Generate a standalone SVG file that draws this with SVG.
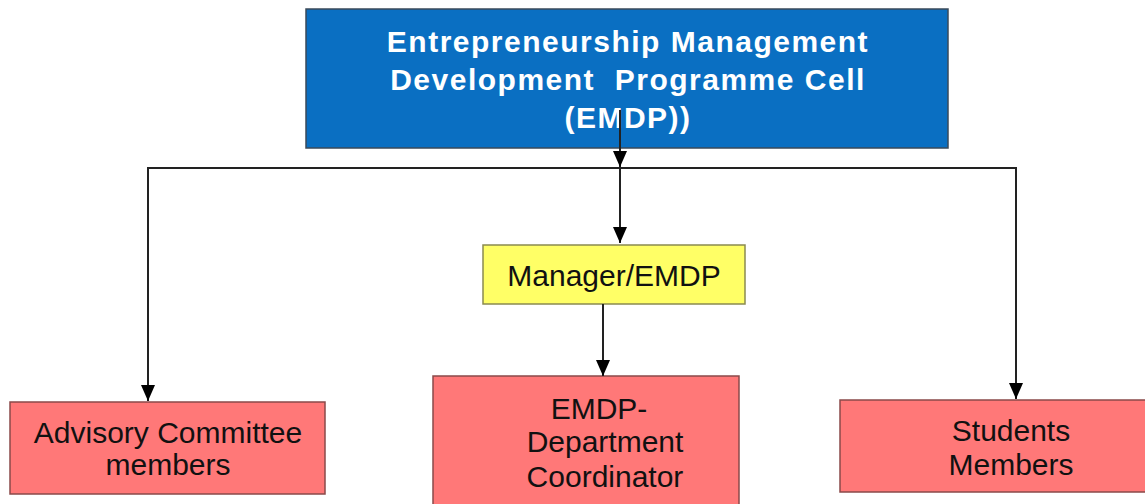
<svg xmlns="http://www.w3.org/2000/svg" width="1145" height="504" viewBox="0 0 1145 504">
<defs>
<marker id="arr" markerWidth="16" markerHeight="16" refX="16" refY="8" orient="auto" markerUnits="userSpaceOnUse" viewBox="0 0 16 16">
<path d="M0,1 L16,8 L0,15 Z" fill="#000"/>
</marker>
</defs>
<style>
text{font-family:"Liberation Sans",Arial,sans-serif;text-anchor:middle}
.t{fill:#fff;font-weight:bold;font-size:30px;letter-spacing:1.5px}
.k{fill:#111;font-size:30px}
.red{fill:#ff7878;stroke:#8a4a4a;stroke-width:1.5}
.c{stroke:#222;stroke-width:2;fill:none}
</style>
<rect width="1145" height="504" fill="#fff"/>
<g id="n-emdp">
<rect x="306" y="9" width="642" height="139" fill="#0a6fc2" stroke="#3a4a5a" stroke-width="1.5"/>
<text class="t" x="628" y="52">Entrepreneurship Management</text>
<text class="t" x="628" y="90" xml:space="preserve">Development  Programme Cell</text>
<text class="t" x="628" y="128">(EMDP))</text>
</g>
<g id="n-manager">
<rect x="483" y="245" width="262" height="59" fill="#ffff66" stroke="#8a8a50" stroke-width="1.5"/>
<text class="k" x="614" y="286">Manager/EMDP</text>
</g>
<g id="n-advisory">
<rect class="red" x="10" y="402" width="315" height="92"/>
<text class="k" x="168" y="443">Advisory Committee</text>
<text class="k" x="168" y="475">members</text>
</g>
<g id="n-coord">
<rect class="red" x="433" y="376" width="306" height="130"/>
<text class="k" x="599" y="419">EMDP-</text>
<text class="k" x="605" y="452">Department</text>
<text class="k" x="605" y="487">Coordinator</text>
</g>
<g id="n-students">
<rect class="red" x="840" y="400" width="310" height="92"/>
<text class="k" x="1011" y="441">Students</text>
<text class="k" x="1011" y="475">Members</text>
</g>
<g id="connectors">
<polyline class="c" points="148,300 148,168 1016,168 1016,300"/>
<line class="c" x1="620" y1="110" x2="620" y2="167" marker-end="url(#arr)"/>
<line class="c" x1="620" y1="168" x2="620" y2="243" marker-end="url(#arr)"/>
<line class="c" x1="603" y1="304" x2="603" y2="376" marker-end="url(#arr)"/>
<line class="c" x1="148" y1="300" x2="148" y2="401" marker-end="url(#arr)"/>
<line class="c" x1="1016" y1="300" x2="1016" y2="399" marker-end="url(#arr)"/>
</g>
</svg>
